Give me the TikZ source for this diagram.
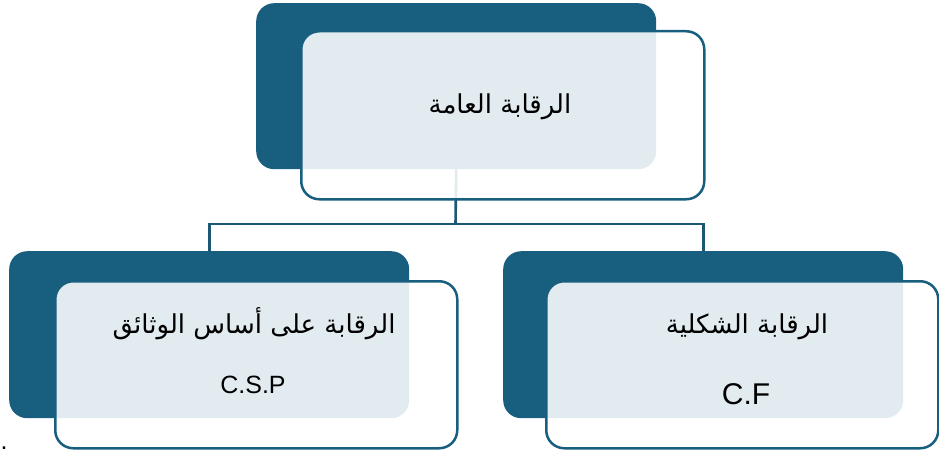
\documentclass[tikz,border=0pt]{standalone}
\usepackage{fontspec}
\setmainfont{Liberation Sans}
\newfontfamily\arabicfont[Script=Arabic]{DejaVu Sans}
\TeXXeTstate=1
\definecolor{tealdark}{RGB}{24,94,126}
\definecolor{tealline}{RGB}{28,88,116}
\begin{document}
\begin{tikzpicture}[x=1pt,y=-1pt,
  darkbox/.style={fill=tealdark, rounded corners=18pt, minimum width=400pt, minimum height=166pt, inner sep=0pt, anchor=north west},
  lightbox/.style={draw=tealdark, line width=2.5pt, fill=white, fill opacity=0.88, rounded corners=18pt, inner sep=0pt, anchor=north west},
  conn/.style={draw=tealline, line width=2.6pt},
  artext/.style={font=\arabicfont\fontsize{26}{30}\selectfont, inner sep=0pt, anchor=base},
  latext/.style={font=\fontsize{25}{30}\selectfont, inner sep=0pt, anchor=base},
]
\useasboundingbox (0,0) rectangle (939,452);

% dark back boxes
\node[darkbox] (topdark) at (256,3) {};
\node[darkbox, minimum height=167pt] (ldark) at (9,251) {};
\node[darkbox, minimum height=167pt] (rdark) at (503,251) {};

% connectors (behind the light boxes)
\coordinate (junction) at (455.5,224);
\draw[conn] (topdark.south) -- (junction);
\draw[conn] (ldark.north) |- (junction) -| (rdark.north);

% light front boxes
\node[lightbox, minimum width=403pt, minimum height=168pt] (toplight) at (300,30) {};
\node[lightbox, minimum width=402pt, minimum height=167pt] (llight) at (54,280) {};
\node[lightbox, minimum width=392pt, minimum height=167pt] (rlight) at (545,280) {};

% texts
\node[artext] (toptext) at (500,113) {\beginR الرقابة العامة\endR};
\node[artext] (ltext) at (254,333) {\beginR الرقابة على أساس الوثائق\endR};
\node[latext] (lcode) at (253,393) {C.S.P};
\node[artext] (rtext) at (747,333) {\beginR الرقابة الشكلية\endR};
\node[latext, font=\fontsize{30}{36}\selectfont] (rcode) at (746,404) {C.F};
\node[latext, anchor=base west] (dot) at (0.5,449.5) {.};
\end{tikzpicture}
\end{document}
